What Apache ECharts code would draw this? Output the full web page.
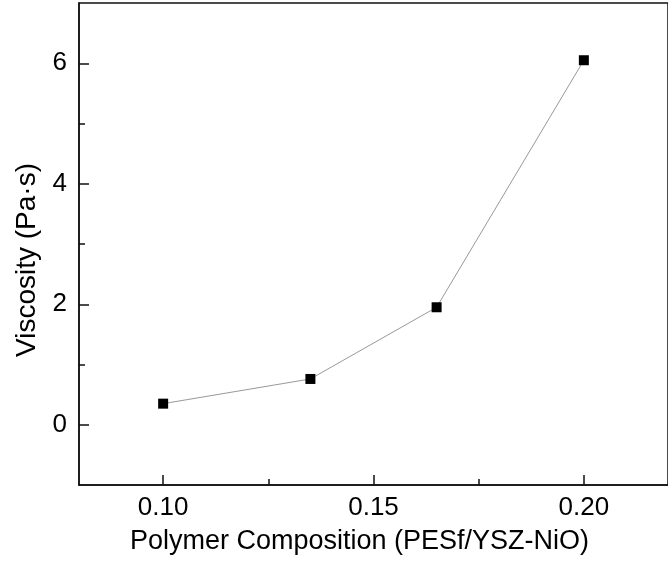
<!DOCTYPE html>
<html>
<head>
<meta charset="utf-8">
<script src="https://cdn.jsdelivr.net/npm/echarts@6/dist/echarts.min.js"></script>
<style>
  html, body { margin: 0; padding: 0; background: #fff; }
  #main { width: 668px; height: 575px; }
</style>
</head>
<body>
<div id="main"></div>
<script>
const composition = [0.10, 0.135, 0.165, 0.20]
const viscosity = [0.35, 0.76, 1.95, 6.05]
const xMajor = [0.10, 0.15, 0.20]
const xMinor = [0.125, 0.175]
const yMajor = [0, 2, 4, 6]
const yMinor = [1, 3, 5]

const font = 'Liberation Sans, Arial, sans-serif'
const axisColor = '#111'

// axis that only draws inward ticks at the given values
function tickAxis (min, max, pos, values, len) {
  return {
    type: 'value', min: min, max: max, position: pos,
    axisLine: { show: false, onZero: false },
    splitLine: { show: false },
    axisLabel: { show: false },
    axisTick: { show: true, inside: true, length: len, customValues: values, lineStyle: { color: axisColor, width: 1.5 } }
  }
}

let chart = echarts.init(document.getElementById('main'), null, { renderer: 'canvas' })
chart.setOption({
  animation: false,
  backgroundColor: '#fff',
  grid: { left: 79, top: 3, right: -6, bottom: 90, show: true, borderColor: axisColor, borderWidth: 1.5 },
  xAxis: [
    {
      type: 'value', min: 0.08, max: 0.22, position: 'bottom',
      name: 'Polymer Composition (PESf/YSZ-NiO)',
      nameLocation: 'middle',
      nameGap: 43,
      nameTextStyle: { fontFamily: font, fontSize: 27, color: '#000', padding: [0, 28, 0, 0] },
      axisLine: { show: true, onZero: false, lineStyle: { color: axisColor, width: 1.5 } },
      splitLine: { show: false },
      axisTick: { show: false },
      axisLabel: { show: true, margin: 10, customValues: xMajor, fontFamily: font, fontSize: 26, color: '#000',
        formatter: v => v.toFixed(2) }
    },
    tickAxis(0.08, 0.22, 'bottom', xMajor, 10),
    tickAxis(0.08, 0.22, 'bottom', xMinor, 6)
  ],
  yAxis: [
    {
      type: 'value', min: -1, max: 7, position: 'left',
      name: 'Viscosity (Pa·s)',
      nameLocation: 'middle',
      nameGap: 35,
      nameTextStyle: { fontFamily: font, fontSize: 28, color: '#000', padding: [0, 32, 0, 0] },
      axisLine: { show: true, onZero: false, lineStyle: { color: axisColor, width: 1.5 } },
      splitLine: { show: false },
      axisTick: { show: false },
      axisLabel: { show: true, margin: 12, customValues: yMajor, fontFamily: font, fontSize: 26, color: '#000' }
    },
    tickAxis(-1, 7, 'left', yMajor, 10),
    tickAxis(-1, 7, 'left', yMinor, 6)
  ],
  series: [{
    type: 'line',
    data: composition.map((c, i) => [c, viscosity[i]]),
    symbol: 'rect',
    symbolSize: 10,
    itemStyle: { color: '#000' },
    lineStyle: { color: '#999', width: 1 }
  }]
})
</script>
</body>
</html>
